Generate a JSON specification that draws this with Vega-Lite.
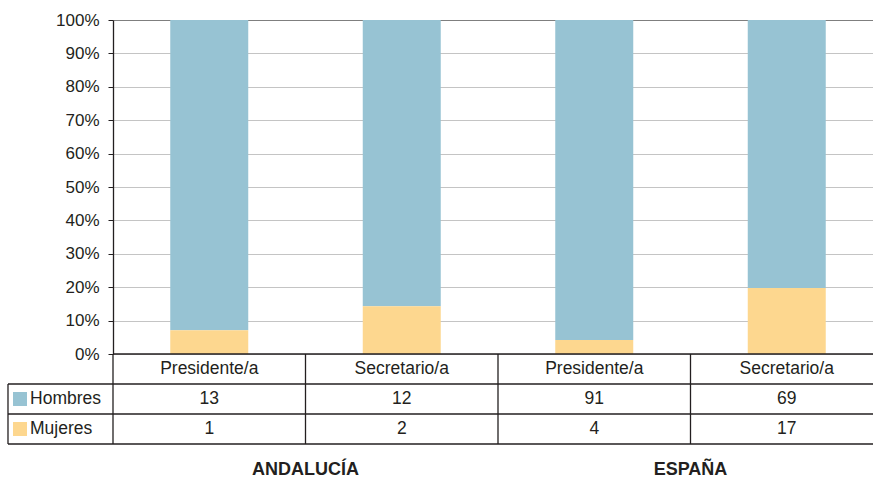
{
  "$schema": "https://vega.github.io/schema/vega-lite/v6.json",
  "width": 770,
  "height": 334,
  "autosize": {"type": "none"},
  "padding": {"left": 113, "top": 20, "right": 0, "bottom": 124},
  "background": "white",
  "config": {
    "view": {"stroke": null},
    "font": "Liberation Sans",
    "text": {"font": "Liberation Sans", "fontSize": 17.5, "color": "#231f20", "baseline": "middle"},
    "rule": {"color": "#231f20", "strokeWidth": 1.3}
  },
  "data": {
    "values": [
      {"grupo": "ANDALUCÍA", "cargo": "Presidente/a", "col": 0, "sexo": "Hombres", "n": 13},
      {"grupo": "ANDALUCÍA", "cargo": "Presidente/a", "col": 0, "sexo": "Mujeres", "n": 1},
      {"grupo": "ANDALUCÍA", "cargo": "Secretario/a", "col": 1, "sexo": "Hombres", "n": 12},
      {"grupo": "ANDALUCÍA", "cargo": "Secretario/a", "col": 1, "sexo": "Mujeres", "n": 2},
      {"grupo": "ESPAÑA", "cargo": "Presidente/a", "col": 2, "sexo": "Hombres", "n": 91},
      {"grupo": "ESPAÑA", "cargo": "Presidente/a", "col": 2, "sexo": "Mujeres", "n": 4},
      {"grupo": "ESPAÑA", "cargo": "Secretario/a", "col": 3, "sexo": "Hombres", "n": 69},
      {"grupo": "ESPAÑA", "cargo": "Secretario/a", "col": 3, "sexo": "Mujeres", "n": 17}
    ]
  },
  "resolve": {"axis": {"y": "independent", "x": "independent"}},
  "layer": [
    {
      "mark": {"type": "bar", "width": 78},
      "encoding": {
        "x": {"field": "col", "type": "quantitative", "scale": {"domain": [-0.5, 3.5], "nice": false, "zero": false, "padding": 0}, "axis": null},
        "y": {
          "field": "n", "type": "quantitative", "stack": "normalize",
          "scale": {"domain": [0, 1], "nice": false, "zero": false, "padding": 0},
          "axis": {
            "title": null,
            "values": [0, 0.1, 0.2, 0.3, 0.4, 0.5, 0.6, 0.7, 0.8, 0.9, 1],
            "format": ".0%",
            "grid": true,
            "gridColor": {"condition": {"test": "datum.value === 1", "value": "#7f7f7f"}, "value": "#c4c4c4"},
            "gridWidth": 1.2,
            "domainColor": "#231f20",
            "domainWidth": 1.3,
            "tickColor": "#231f20",
            "tickSize": 5,
            "labelPadding": 9,
            "labelFontSize": 17,
            "labelColor": "#231f20",
            "labelFont": "Liberation Sans"
          }
        },
        "color": {"field": "sexo", "type": "nominal", "scale": {"domain": ["Hombres", "Mujeres"], "range": ["#97c3d3", "#fdd78f"]}, "legend": null},
        "order": {"field": "sexo", "sort": "descending"}
      }
    },
    {
      "transform": [{"filter": "datum.col === 0 && datum.sexo === 'Hombres'"}],
      "layer": [
        {"mark": "rule", "encoding": {"x": {"datum": -0.5, "type": "quantitative", "axis": null}, "x2": {"datum": 3.5}, "y": {"datum": 0, "type": "quantitative", "axis": null}}},
        {"mark": "rule", "encoding": {"x": {"datum": -1.0455, "type": "quantitative", "axis": null}, "x2": {"datum": 3.5}, "y": {"datum": -0.0898, "type": "quantitative", "axis": null}}},
        {"mark": "rule", "encoding": {"x": {"datum": -1.0455, "type": "quantitative", "axis": null}, "x2": {"datum": 3.5}, "y": {"datum": -0.1796, "type": "quantitative", "axis": null}}},
        {"mark": "rule", "encoding": {"x": {"datum": -1.0455, "type": "quantitative", "axis": null}, "x2": {"datum": 3.5}, "y": {"datum": -0.2695, "type": "quantitative", "axis": null}}},
        {"mark": "rule", "encoding": {"x": {"datum": -0.5, "type": "quantitative", "axis": null}, "y": {"datum": 0, "type": "quantitative", "axis": null}, "y2": {"datum": -0.2695}}},
        {"mark": "rule", "encoding": {"x": {"datum": 0.5, "type": "quantitative", "axis": null}, "y": {"datum": 0, "type": "quantitative", "axis": null}, "y2": {"datum": -0.2695}}},
        {"mark": "rule", "encoding": {"x": {"datum": 1.5, "type": "quantitative", "axis": null}, "y": {"datum": 0, "type": "quantitative", "axis": null}, "y2": {"datum": -0.2695}}},
        {"mark": "rule", "encoding": {"x": {"datum": 2.5, "type": "quantitative", "axis": null}, "y": {"datum": 0, "type": "quantitative", "axis": null}, "y2": {"datum": -0.2695}}},
        {"mark": "rule", "encoding": {"x": {"datum": -1.0455, "type": "quantitative", "axis": null}, "y": {"datum": -0.0898, "type": "quantitative", "axis": null}, "y2": {"datum": -0.2695}}}
      ]
    },
    {
      "transform": [{"filter": "datum.sexo === 'Hombres'"}],
      "layer": [
        {
          "mark": {"type": "text", "align": "center"},
          "encoding": {
            "x": {"field": "col", "type": "quantitative", "axis": null},
            "y": {"datum": -0.0449, "type": "quantitative", "axis": null},
            "text": {"field": "cargo"}
          }
        },
        {
          "mark": {"type": "text", "align": "center"},
          "encoding": {
            "x": {"field": "col", "type": "quantitative", "axis": null},
            "y": {"datum": -0.1347, "type": "quantitative", "axis": null},
            "text": {"field": "n"}
          }
        },
        {
          "transform": [{"filter": "datum.col === 0"}],
          "mark": {"type": "text", "align": "left"},
          "encoding": {
            "x": {"datum": -0.931, "type": "quantitative", "axis": null},
            "y": {"datum": -0.1347, "type": "quantitative", "axis": null},
            "text": {"field": "sexo"}
          }
        },
        {
          "transform": [{"filter": "datum.col === 0"}],
          "mark": {"type": "point", "shape": "square", "filled": true, "size": 196, "opacity": 1},
          "encoding": {
            "x": {"datum": -0.983, "type": "quantitative", "axis": null},
            "y": {"datum": -0.1347, "type": "quantitative", "axis": null},
            "color": {"field": "sexo", "type": "nominal", "legend": null}
          }
        }
      ]
    },
    {
      "transform": [{"filter": "datum.sexo === 'Mujeres'"}],
      "layer": [
        {
          "mark": {"type": "text", "align": "center"},
          "encoding": {
            "x": {"field": "col", "type": "quantitative", "axis": null},
            "y": {"datum": -0.2246, "type": "quantitative", "axis": null},
            "text": {"field": "n"}
          }
        },
        {
          "transform": [{"filter": "datum.col === 0"}],
          "mark": {"type": "text", "align": "left"},
          "encoding": {
            "x": {"datum": -0.931, "type": "quantitative", "axis": null},
            "y": {"datum": -0.2246, "type": "quantitative", "axis": null},
            "text": {"field": "sexo"}
          }
        },
        {
          "transform": [{"filter": "datum.col === 0"}],
          "mark": {"type": "point", "shape": "square", "filled": true, "size": 196, "opacity": 1},
          "encoding": {
            "x": {"datum": -0.983, "type": "quantitative", "axis": null},
            "y": {"datum": -0.2246, "type": "quantitative", "axis": null},
            "color": {"field": "sexo", "type": "nominal", "legend": null}
          }
        }
      ]
    },
    {
      "transform": [{"aggregate": [{"op": "mean", "field": "col", "as": "centro"}], "groupby": ["grupo"]}],
      "mark": {"type": "text", "align": "center", "fontWeight": "bold", "fontSize": 18},
      "encoding": {
        "x": {"field": "centro", "type": "quantitative", "axis": null},
        "y": {"datum": -0.3473, "type": "quantitative", "axis": null},
        "text": {"field": "grupo"}
      }
    }
  ]
}
